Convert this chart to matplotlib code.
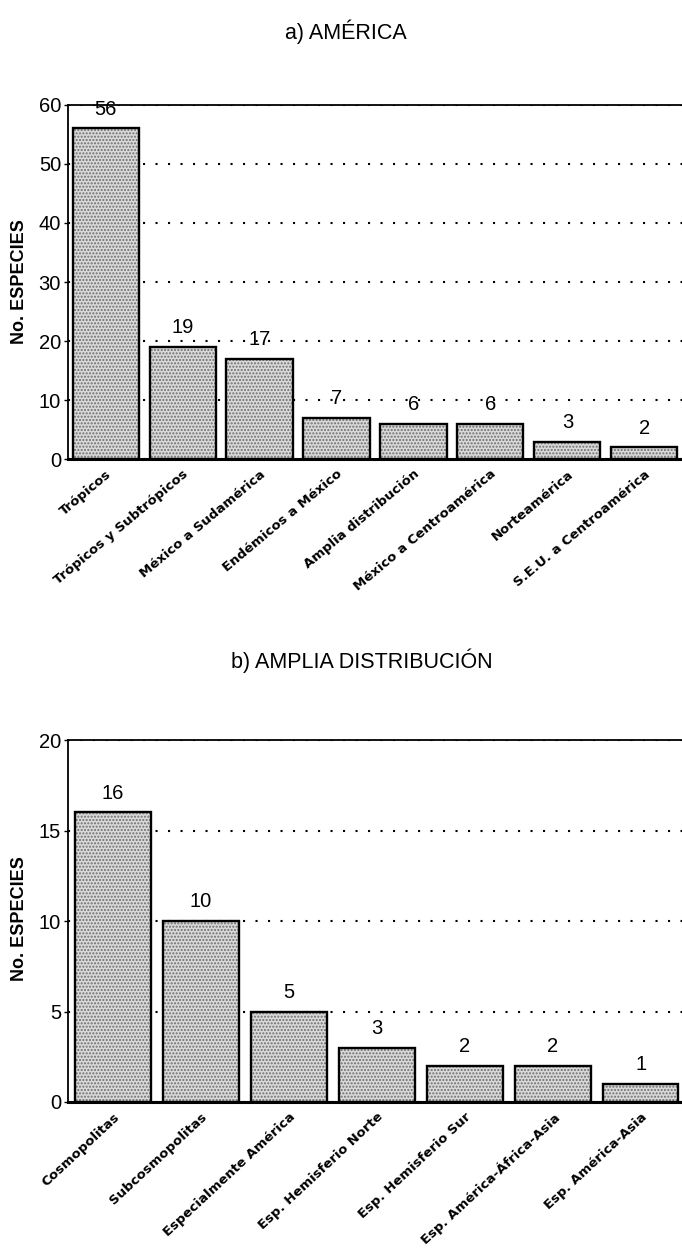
import matplotlib.pyplot as plt
import numpy as np

# data
america_cats = ['Trópicos', 'Trópicos y Subtrópicos', 'México a Sudamérica',
                'Endémicos a México', 'Amplia distribución', 'México a Centroamérica',
                'Norteamérica', 'S.E.U. a Centroamérica']
america_vals = [56, 19, 17, 7, 6, 6, 3, 2]

amplia_cats = ['Cosmopolitas', 'Subcosmopolitas', 'Especialmente América',
               'Esp. Hemisferio Norte', 'Esp. Hemisferio Sur',
               'Esp. América-África-Asia', 'Esp. América-Asia']
amplia_vals = [16, 10, 5, 3, 2, 2, 1]

plt.rcParams['font.family'] = ['Liberation Sans', 'DejaVu Sans']
plt.rcParams['hatch.linewidth'] = 1.0

fig = plt.figure(figsize=(6.82, 12.48), dpi=100)
ax1 = fig.add_axes([0.0997, 0.632, 0.9003, 0.284])
ax2 = fig.add_axes([0.0997, 0.117, 0.9003, 0.290])


def draw(ax, cats, vals, ymax, step, xlim, rot):
    x = np.arange(len(cats))
    # stippled fill, then black outline on top
    ax.bar(x, vals, width=0.86, color='#d9d9d9', edgecolor='#6e6e6e',
           hatch='.....', linewidth=0, zorder=2)
    ax.bar(x, vals, width=0.86, fill=False, edgecolor='black',
           linewidth=1.7, zorder=3)
    for xi, v in zip(x, vals):
        ax.annotate(str(v), (xi, v), xytext=(0, 7), textcoords='offset points',
                    ha='center', va='bottom', fontsize=14.5, zorder=4)
    ax.set_ylim(0, ymax)
    ax.set_xlim(*xlim)
    ax.set_yticks(np.arange(0, ymax + 1, step))
    ax.tick_params(axis='y', labelsize=14.5, length=3, width=1, pad=2)
    ax.yaxis.grid(True, linestyle=(0, (1, 5)), color='black', linewidth=1.5)
    ax.set_axisbelow(True)
    ax.set_xticks(x)
    ax.set_xticklabels(cats, rotation=rot, ha='right', va='top',
                       rotation_mode='anchor', fontsize=9.5, fontweight='bold',
                       family='DejaVu Sans')
    ax.tick_params(axis='x', length=0, pad=6)
    ax.spines['right'].set_visible(False)
    ax.spines['left'].set_linewidth(1.3)
    ax.spines['top'].set_linewidth(1.3)
    ax.spines['bottom'].set_linewidth(2.2)


draw(ax1, america_cats, america_vals, 60, 10, (-0.49, 7.49), 40)
draw(ax2, amplia_cats, amplia_vals, 20, 5, (-0.51, 6.47), 43)

fig.text(346 / 682, 1 - 32 / 1248, 'a) AMÉRICA', ha='center', va='center', fontsize=15.5)
fig.text(362 / 682, 1 - 661 / 1248, 'b) AMPLIA DISTRIBUCIÓN', ha='center', va='center', fontsize=15.5)
fig.text(20 / 682, 0.774, 'No. ESPECIES', rotation=90, ha='center', va='center',
         fontsize=13, fontweight='bold')
fig.text(20 / 682, 0.264, 'No. ESPECIES', rotation=90, ha='center', va='center',
         fontsize=13, fontweight='bold')

fig.savefig('out.png', dpi=100, facecolor='white')
